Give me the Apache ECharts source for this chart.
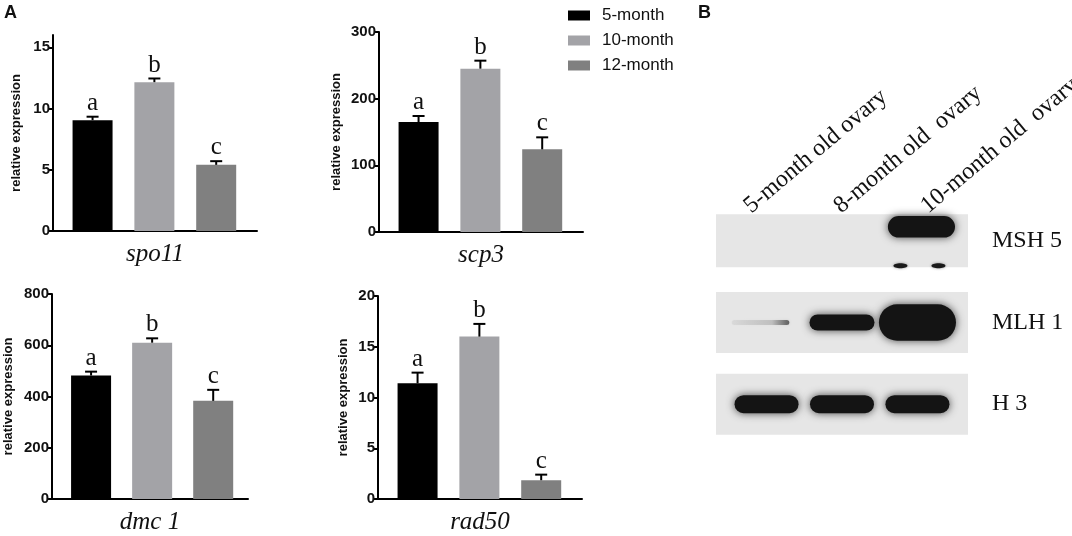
<!DOCTYPE html>
<html>
<head>
<meta charset="utf-8">
<script src="https://cdn.jsdelivr.net/npm/echarts@6/dist/echarts.min.js"></script>
<style>
html,body{margin:0;padding:0;background:#fff;}
#chart{width:1072px;height:536px;}
</style>
</head>
<body>
<div id="chart"></div>
<script>
// ---------- data ----------
const genes = ['spo11', 'scp3', 'dmc 1', 'rad50'];
const groups = ['5-month', '10-month', '12-month'];
const mean5 = [9.05, 165, 482, 11.4];
const mean10 = [12.15, 245, 610, 16.0];
const mean12 = [5.4, 124, 383, 1.85];
const err5 = [0.28, 9, 15, 1.05];
const err10 = [0.3, 12, 17, 1.25];
const err12 = [0.3, 18, 43, 0.55];
const sigLetters = ['a', 'b', 'c'];
const yMaxes = [16, 300, 800, 20];
const yTickValues = [[0, 5, 10, 15], [0, 100, 200, 300], [0, 200, 400, 600, 800], [0, 5, 10, 15, 20]];
const blotLanes = ['5-month old ovary', '8-month old  ovary', '10-month old  ovary'];
const blotProteins = ['MSH 5', 'MLH 1', 'H 3'];
const msh5Intensity = [0, 0, 1.1];
const mlh1Intensity = [0.15, 0.9, 1.45];
const h3Intensity = [1, 1, 1];

// ---------- layout / style ----------
const means = [mean5, mean10, mean12];
const errs = [err5, err10, err12];
const colors = ['#000000', '#a3a3a7', '#808080'];
const grids = [
  {left: 53, top: 35, width: 204, height: 196},
  {left: 379, top: 32, width: 204, height: 200},
  {left: 52, top: 294, width: 196, height: 205},
  {left: 378, top: 296, width: 204, height: 203}
];
const xMaxes = [3.66, 3.66, 3.57, 3.66];
const nameGaps = [30, 36, 37, 28];
const sans = '"Liberation Sans", Arial, sans-serif';
const serif = '"Liberation Serif", "Times New Roman", serif';

const option = {
  animation: false,
  backgroundColor: '#ffffff',
  legend: {
    data: groups,
    orient: 'vertical',
    left: 563, top: 2,
    itemWidth: 22, itemHeight: 10, itemGap: 8,
    icon: 'rect',
    textStyle: {fontFamily: sans, fontSize: 17, color: '#111', padding: [0, 0, 0, 7]}
  },
  grid: [],
  xAxis: [],
  yAxis: [],
  series: [],
  graphic: []
};

genes.forEach((g, i) => {
  option.grid.push(Object.assign({containLabel: false}, grids[i]));
  option.xAxis.push({
    type: 'value', gridIndex: i, min: 0.36, max: xMaxes[i],
    axisLine: {show: true, onZero: false, lineStyle: {color: '#000', width: 2}},
    axisTick: {show: false}, axisLabel: {show: false}, splitLine: {show: false},
    name: g, nameLocation: 'middle', nameGap: 11,
    nameTextStyle: {fontFamily: serif, fontStyle: 'italic', fontSize: 25, color: '#111'}
  });
  option.yAxis.push({
    type: 'value', gridIndex: i, min: 0, max: yMaxes[i],
    axisLine: {show: true, lineStyle: {color: '#000', width: 2}},
    axisTick: {show: true, length: 4, lineStyle: {width: 2, color: '#000'}, customValues: yTickValues[i]},
    axisLabel: {customValues: yTickValues[i], margin: 3, fontFamily: sans, fontWeight: 'bold', fontSize: 15, color: '#111'},
    splitLine: {show: false},
    name: 'relative expression', nameLocation: 'middle', nameGap: nameGaps[i],
    nameTextStyle: {fontFamily: sans, fontWeight: 'bold', fontSize: 13, color: '#111'}
  });
  groups.forEach((grp, k) => {
    option.series.push({
      type: 'bar', name: grp, xAxisIndex: i, yAxisIndex: i,
      barWidth: 40, barGap: '-100%',
      itemStyle: {color: colors[k]},
      data: [[k + 1, means[k][i]]]
    });
  });
  option.series.push({
    type: 'custom', xAxisIndex: i, yAxisIndex: i, z: 5, silent: true,
    data: groups.map((grp, k) => [k + 1, means[k][i], errs[k][i]]),
    renderItem: function (params, api) {
      const x = api.value(0), v = api.value(1), e = api.value(2);
      const p0 = api.coord([x, v]);
      const p1 = api.coord([x, v + e]);
      return {
        type: 'group',
        children: [
          {type: 'line', shape: {x1: p0[0], y1: p0[1], x2: p1[0], y2: p1[1]}, style: {stroke: '#000', lineWidth: 2}},
          {type: 'line', shape: {x1: p1[0] - 6, y1: p1[1], x2: p1[0] + 6, y2: p1[1]}, style: {stroke: '#000', lineWidth: 2}},
          {type: 'text', x: p1[0], y: p1[1] - 1, style: {text: sigLetters[params.dataIndex], fontFamily: serif, fontSize: 25, fill: '#111', align: 'center', verticalAlign: 'bottom'}}
        ]
      };
    }
  });
});

// ---------- western blot panel ----------
const blotGrid = 4;
option.grid.push({left: 716, top: 200, width: 252, height: 245});
option.xAxis.push({type: 'value', gridIndex: blotGrid, min: 0.33, max: 3.67, show: false});
option.yAxis.push({
  type: 'category', gridIndex: blotGrid, data: blotProteins, inverse: true, position: 'right',
  axisLine: {show: false}, axisTick: {show: false}, splitLine: {show: false},
  axisLabel: {margin: 24, fontFamily: serif, fontSize: 24, color: '#111'}
});
const boxHeights = [53, 61, 61];
option.series.push({
  type: 'custom', xAxisIndex: blotGrid, yAxisIndex: blotGrid, silent: true, z: 1,
  data: blotProteins.map((p, r) => [2, r]),
  renderItem: function (params, api) {
    const cs = params.coordSys;
    const c = api.coord([2, api.value(1)]);
    const h = boxHeights[params.dataIndex];
    return {type: 'rect', shape: {x: cs.x, y: c[1] - h / 2, width: cs.width, height: h},
      style: {fill: '#e6e6e6'}};
  }
});
const intensities = [msh5Intensity, mlh1Intensity, h3Intensity];
const bandData = [];
intensities.forEach((arr, r) => arr.forEach((I, l) => { if (I > 0) bandData.push([l + 1, r, I]); }));
option.series.push({
  type: 'custom', xAxisIndex: blotGrid, yAxisIndex: blotGrid, silent: true, z: 2,
  data: bandData,
  renderItem: function (params, api) {
    const row = api.value(1), I = api.value(2);
    const c = api.coord([api.value(0), row]);
    const w = I >= 1 ? 64 * Math.sqrt(I) : 56 + 10 * I;
    const h = I >= 1 ? 18 * Math.pow(I, 1.9) : Math.max(5, 18 * I);
    const dy = row === 0 ? -14 : 0;
    const dx = row === 0 ? 4 : 0;
    const cx = c[0] + dx, cy = c[1] + dy;
    const children = [];
    if (I < 0.5) {
      children.push({type: 'rect', shape: {x: cx - w / 2 - 6, y: cy - h / 2, width: w, height: h, r: h / 2},
        style: {fill: {type: 'linear', x: 0, y: 0, x2: 1, y2: 0, colorStops: [
          {offset: 0, color: 'rgba(0,0,0,0.05)'}, {offset: 0.7, color: 'rgba(0,0,0,0.15)'}, {offset: 1, color: 'rgba(0,0,0,0.55)'}]},
          shadowBlur: 3, shadowColor: 'rgba(0,0,0,0.2)'}});
    } else {
      children.push({type: 'rect', shape: {x: cx - w / 2, y: cy - h / 2, width: w, height: h, r: h / 2},
        style: {fill: '#141414', shadowBlur: 8, shadowColor: 'rgba(0,0,0,0.7)'}});
    }
    if (row === 0) {
      const bottom = c[1] + boxHeights[0] / 2;
      [-17, 21].forEach(ox => children.push({type: 'ellipse', shape: {cx: c[0] + ox, cy: bottom - 1.5, rx: 7, ry: 2.5},
        style: {fill: '#1a1a1a', shadowBlur: 3, shadowColor: 'rgba(0,0,0,0.4)'}}));
    }
    return {type: 'group', children: children};
  }
});

// lane labels (rotated) and panel letters
const laneAnchors = [[755, 218], [845, 218], [932, 218]];
blotLanes.forEach((t, l) => {
  option.graphic.push({type: 'text', x: laneAnchors[l][0], y: laneAnchors[l][1], rotation: 40 * Math.PI / 180,
    style: {text: t, fontFamily: serif, fontSize: 24, fill: '#111', align: 'left', verticalAlign: 'bottom'}});
});
option.graphic.push({type: 'text', x: 4, y: 4, style: {text: 'A', fontFamily: sans, fontWeight: 'bold', fontSize: 18, fill: '#111'}});
option.graphic.push({type: 'text', x: 698, y: 4, style: {text: 'B', fontFamily: sans, fontWeight: 'bold', fontSize: 18, fill: '#111'}});

const chart = echarts.init(document.getElementById('chart'), null, {renderer: 'canvas'});
chart.setOption(option);
</script>
</body>
</html>
